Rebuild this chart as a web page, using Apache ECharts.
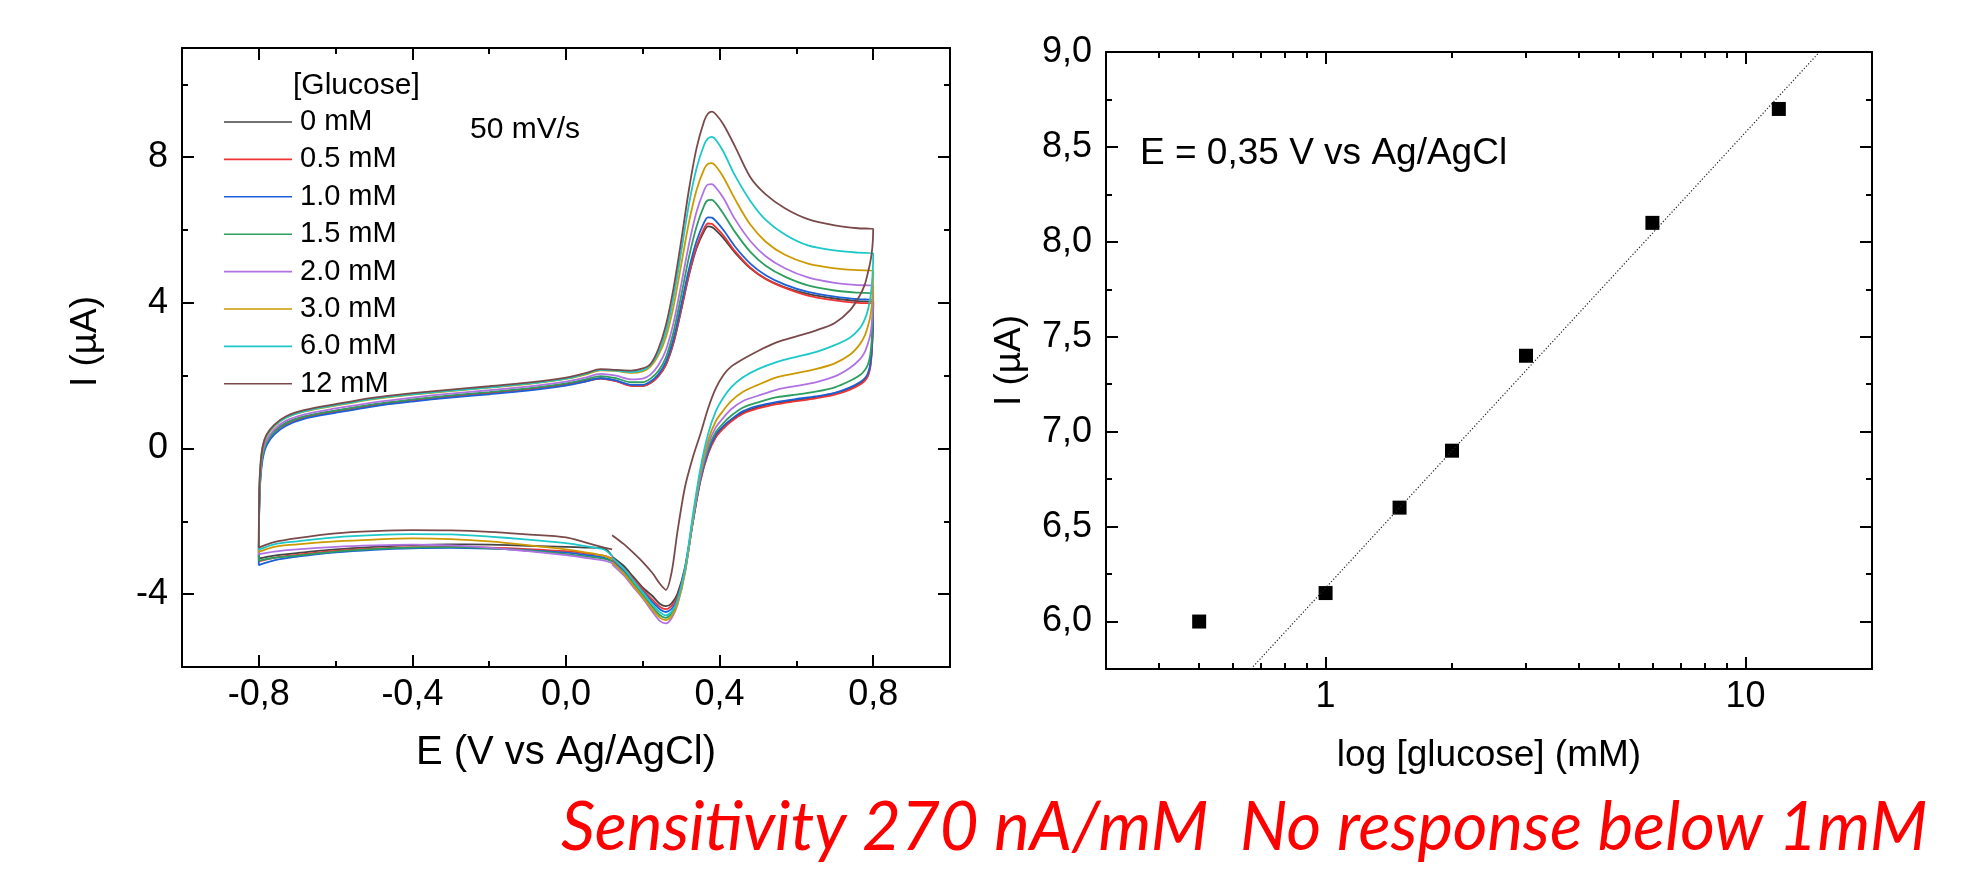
<!DOCTYPE html>
<html><head><meta charset="utf-8">
<script src="https://cdn.jsdelivr.net/npm/echarts@6/dist/echarts.min.js"></script>
<style>html,body{margin:0;padding:0;background:#fff}#c{width:1966px;height:873px}</style>
</head><body><div id="c"></div>
<script>
// ---------------- data ----------------
const CONC_LABELS = ['0 mM','0.5 mM','1.0 mM','1.5 mM','2.0 mM','3.0 mM','6.0 mM','12 mM'];

// potential path of the cyclic scan (V vs Ag/AgCl)
const E_LOOP = [
  0.12, 0.10, 0.05, 0.0, -0.1, -0.2, -0.3, -0.4, -0.5, -0.6, -0.7, -0.76, -0.8,
  -0.799, -0.796, -0.79, -0.78, -0.76, -0.73, -0.68, -0.6, -0.5, -0.4, -0.3, -0.2, -0.1, 0.0, 0.05, 0.09, 0.13, 0.17, 0.2, 0.22, 0.24, 0.26, 0.28, 0.3, 0.32, 0.34, 0.36, 0.37, 0.38, 0.39, 0.41, 0.44, 0.48, 0.52, 0.57, 0.63, 0.7, 0.76, 0.8,
  0.799, 0.796, 0.792, 0.786, 0.778, 0.765, 0.74, 0.7, 0.65, 0.6, 0.55, 0.5, 0.46, 0.43, 0.41, 0.39, 0.37, 0.35, 0.33, 0.31, 0.29, 0.275, 0.26, 0.245, 0.225, 0.2, 0.175, 0.15, 0.12
];

// current (µA) for each glucose concentration along E_LOOP
const I_0MM = [
  -2.95, -2.75, -2.72, -2.70, -2.67, -2.64, -2.63, -2.65, -2.70, -2.77, -2.87, -2.94, -3.02,
  -1.6, -0.7, -0.15, 0.2, 0.48, 0.70, 0.88, 1.04, 1.20, 1.33, 1.44, 1.53, 1.63, 1.76, 1.86, 1.93, 1.86, 1.73, 1.72, 1.80, 1.98, 2.30, 2.90, 3.80, 4.75, 5.50, 5.98, 6.10, 6.08, 6.00, 5.78, 5.38, 4.95, 4.66, 4.43, 4.25, 4.12, 4.05, 4.03,
  3.3, 2.65, 2.25, 2.02, 1.90, 1.79, 1.66, 1.52, 1.41, 1.33, 1.26, 1.14, 0.98, 0.78, 0.6, 0.33, -0.12, -0.85, -2.0, -3.25, -4.0, -4.25, -4.33, -4.27, -4.05, -3.82, -3.52, -3.22, -2.97
];
const I_05MM = [
  -3.02, -2.95, -2.88, -2.82, -2.76, -2.72, -2.70, -2.71, -2.75, -2.81, -2.92, -3.0, -3.1,
  -1.7, -0.8, -0.2, 0.15, 0.44, 0.66, 0.85, 1.01, 1.18, 1.31, 1.42, 1.51, 1.61, 1.74, 1.84, 1.92, 1.85, 1.72, 1.72, 1.80, 1.98, 2.30, 2.92, 3.82, 4.78, 5.55, 6.05, 6.18, 6.17, 6.08, 5.85, 5.42, 4.97, 4.66, 4.41, 4.20, 4.07, 4.00, 3.99,
  3.3, 2.6, 2.2, 1.98, 1.86, 1.75, 1.62, 1.48, 1.38, 1.30, 1.22, 1.10, 0.95, 0.74, 0.55, 0.30, -0.15, -0.90, -2.05, -3.30, -4.08, -4.32, -4.41, -4.35, -4.15, -3.87, -3.58, -3.30, -3.05
];
const I_1MM = [
  -3.08, -3.0, -2.92, -2.86, -2.79, -2.75, -2.73, -2.74, -2.78, -2.85, -2.97, -3.07, -3.2,
  -1.8, -0.9, -0.3, 0.08, 0.38, 0.62, 0.82, 0.98, 1.16, 1.29, 1.40, 1.49, 1.59, 1.73, 1.84, 1.93, 1.87, 1.75, 1.75, 1.84, 2.03, 2.38, 3.02, 3.95, 4.92, 5.70, 6.22, 6.35, 6.34, 6.25, 6.00, 5.55, 5.08, 4.76, 4.50, 4.30, 4.17, 4.10, 4.08,
  3.4, 2.7, 2.3, 2.06, 1.93, 1.82, 1.68, 1.53, 1.43, 1.36, 1.28, 1.17, 1.02, 0.80, 0.62, 0.38, -0.08, -0.85, -2.05, -3.35, -4.15, -4.40, -4.49, -4.42, -4.22, -3.93, -3.63, -3.35, -3.10
];
const I_15MM = [
  -3.1, -3.03, -2.96, -2.9, -2.8, -2.74, -2.71, -2.72, -2.76, -2.83, -2.94, -3.0, -3.08,
  -1.7, -0.8, -0.2, 0.15, 0.45, 0.69, 0.88, 1.04, 1.22, 1.35, 1.46, 1.55, 1.65, 1.79, 1.90, 1.99, 1.93, 1.82, 1.82, 1.92, 2.12, 2.50, 3.20, 4.20, 5.25, 6.10, 6.68, 6.82, 6.83, 6.74, 6.45, 5.95, 5.40, 5.02, 4.72, 4.48, 4.34, 4.28, 4.26,
  3.6, 2.95, 2.55, 2.3, 2.15, 2.01, 1.86, 1.68, 1.56, 1.48, 1.41, 1.27, 1.12, 0.90, 0.70, 0.45, 0.0, -0.80, -2.0, -3.35, -4.2, -4.52, -4.65, -4.58, -4.35, -4.02, -3.70, -3.40, -3.14
];
const I_2MM = [
  -3.15, -3.08, -3.0, -2.93, -2.82, -2.72, -2.66, -2.64, -2.66, -2.70, -2.77, -2.83, -2.9,
  -1.5, -0.7, -0.1, 0.22, 0.52, 0.76, 0.94, 1.10, 1.27, 1.40, 1.51, 1.60, 1.70, 1.84, 1.95, 2.05, 2.0, 1.9, 1.92, 2.03, 2.28, 2.70, 3.45, 4.50, 5.60, 6.50, 7.10, 7.25, 7.26, 7.17, 6.88, 6.30, 5.70, 5.28, 4.95, 4.70, 4.55, 4.49, 4.47,
  3.9, 3.4, 3.1, 2.88, 2.65, 2.45, 2.22, 1.98, 1.82, 1.72, 1.62, 1.45, 1.30, 1.08, 0.85, 0.58, 0.10, -0.75, -2.0, -3.4, -4.3, -4.66, -4.80, -4.74, -4.48, -4.12, -3.80, -3.48, -3.18
];
const I_3MM = [
  -3.05, -2.95, -2.85, -2.77, -2.65, -2.55, -2.49, -2.47, -2.50, -2.55, -2.63, -2.70, -2.84,
  -1.4, -0.6, 0.0, 0.32, 0.60, 0.84, 1.02, 1.18, 1.36, 1.48, 1.58, 1.67, 1.77, 1.91, 2.03, 2.15, 2.13, 2.08, 2.12, 2.25, 2.55, 3.05, 3.90, 5.05, 6.20, 7.10, 7.68, 7.82, 7.84, 7.76, 7.45, 6.85, 6.15, 5.68, 5.32, 5.08, 4.95, 4.90, 4.88,
  4.4, 3.9, 3.6, 3.35, 3.1, 2.86, 2.58, 2.34, 2.18, 2.07, 1.96, 1.75, 1.55, 1.30, 1.05, 0.75, 0.22, -0.65, -1.95, -3.4, -4.28, -4.60, -4.71, -4.65, -4.42, -4.08, -3.75, -3.42, -3.12
];
const I_6MM = [
  -2.95, -2.78, -2.68, -2.60, -2.50, -2.42, -2.36, -2.35, -2.38, -2.44, -2.55, -2.63, -2.78,
  -1.3, -0.5, 0.05, 0.35, 0.62, 0.85, 1.03, 1.19, 1.37, 1.49, 1.59, 1.68, 1.78, 1.92, 2.05, 2.16, 2.14, 2.10, 2.15, 2.30, 2.62, 3.20, 4.15, 5.40, 6.70, 7.70, 8.35, 8.52, 8.56, 8.48, 8.15, 7.50, 6.80, 6.28, 5.88, 5.58, 5.44, 5.38, 5.36,
  4.9, 4.45, 4.1, 3.8, 3.55, 3.3, 3.05, 2.84, 2.65, 2.52, 2.38, 2.18, 1.95, 1.68, 1.40, 1.02, 0.40, -0.55, -1.85, -3.30, -4.18, -4.48, -4.58, -4.50, -4.28, -3.95, -3.62, -3.30, -3.00
];
const I_12MM = [
  -2.77, -2.72, -2.58, -2.44, -2.36, -2.29, -2.25, -2.24, -2.27, -2.33, -2.46, -2.57, -2.72,
  -1.3, -0.5, 0.05, 0.38, 0.65, 0.88, 1.06, 1.22, 1.40, 1.52, 1.62, 1.71, 1.81, 1.95, 2.07, 2.18, 2.16, 2.14, 2.20, 2.32, 2.72, 3.38, 4.40, 5.70, 7.10, 8.25, 9.00, 9.20, 9.25, 9.18, 8.90, 8.30, 7.45, 6.98, 6.60, 6.30, 6.13, 6.05, 6.03,
  5.7, 5.35, 5.1, 4.82, 4.5, 4.2, 3.8, 3.45, 3.24, 3.08, 2.92, 2.68, 2.45, 2.25, 2.02, 1.65, 1.10, 0.40, -0.25, -1.05, -2.30, -3.40, -3.88, -3.72, -3.42, -3.12, -2.86, -2.62, -2.38
];
const CV_CURRENTS = [I_0MM, I_05MM, I_1MM, I_15MM, I_2MM, I_3MM, I_6MM, I_12MM];

// calibration (current at E = 0.35 V)
const GLUCOSE_MM = [0.5, 1, 1.5, 2, 3, 6, 12];
const I_AT_035V = [6.0, 6.15, 6.6, 6.9, 7.4, 8.1, 8.7];
const FIT_GLUCOSE = [0.664, 15.0];
const FIT_CURRENT = [5.75, 9.0];

// ticks
const CV_X_MAJOR = [-0.8, -0.4, 0, 0.4, 0.8];
const CV_X_MINOR = [-0.6, -0.2, 0.2, 0.6];
const CV_Y_MAJOR = [-4, 0, 4, 8];
const CV_Y_MINOR = [-6, -2, 2, 6, 10];
const CAL_X_MAJOR = [1, 10];
const CAL_X_MINOR = [0.4, 0.5, 0.6, 0.7, 0.8, 0.9, 2, 3, 4, 5, 6, 7, 8, 9];
const CAL_Y_MAJOR = [6.0, 6.5, 7.0, 7.5, 8.0, 8.5, 9.0];
const CAL_Y_MINOR = [6.25, 6.75, 7.25, 7.75, 8.25, 8.75];

// ---------------- style ----------------
const FONT = '"Liberation Sans", Arial, sans-serif';
const CV_COLORS = ['#454545', '#f03434', '#1c60d8', '#2c9e60', '#b072e2', '#cc9a00', '#1cc8c8', '#7a4a4a'];
const comma1 = v => v.toFixed(1).replace('.', ',');

function mkAxis(gridIndex, pos, type, min, max, ticks, tickLen, withLine, label, nameOpts) {
  const a = {
    type: type, gridIndex: gridIndex, position: pos, min: min, max: max,
    splitLine: {show: false},
    axisLine: {show: withLine, onZero: false, lineStyle: {color: '#000', width: 2}},
    axisTick: {show: true, inside: true, length: tickLen, customValues: ticks, lineStyle: {color: '#000', width: 2}},
    axisLabel: {show: false},
    axisPointer: {show: false},
    silent: true
  };
  if (type === 'log') a.logBase = 10;
  if (label) a.axisLabel = Object.assign({show: true, color: '#000', fontSize: 36, fontFamily: FONT}, label);
  if (nameOpts) Object.assign(a, nameOpts);
  return a;
}
const nameStyle = {color: '#000', fontSize: 37, fontFamily: FONT};

const xAxes = [
  mkAxis(0, 'bottom', 'value', -1, 1, CV_X_MAJOR, 12, true,
    {customValues: CV_X_MAJOR, formatter: v => comma1(v), margin: 10},
    {name: 'E (V vs Ag/AgCl)', nameLocation: 'middle', nameGap: 66, nameTextStyle: Object.assign({}, nameStyle, {fontSize: 40})}),
  mkAxis(0, 'bottom', 'value', -1, 1, CV_X_MINOR, 6, false),
  mkAxis(0, 'top', 'value', -1, 1, CV_X_MAJOR, 12, true),
  mkAxis(0, 'top', 'value', -1, 1, CV_X_MINOR, 6, false),
  mkAxis(1, 'bottom', 'log', 0.3, 20, CAL_X_MAJOR, 12, true,
    {customValues: CAL_X_MAJOR, formatter: v => String(Math.round(v)), margin: 10},
    {name: 'log [glucose] (mM)', nameLocation: 'middle', nameGap: 68, nameTextStyle: nameStyle}),
  mkAxis(1, 'bottom', 'log', 0.3, 20, CAL_X_MINOR, 6, false),
  mkAxis(1, 'top', 'log', 0.3, 20, CAL_X_MAJOR, 12, true),
  mkAxis(1, 'top', 'log', 0.3, 20, CAL_X_MINOR, 6, false)
];
const yAxes = [
  mkAxis(0, 'left', 'value', -6, 11, CV_Y_MAJOR, 12, true,
    {customValues: CV_Y_MAJOR, formatter: v => String(v), margin: 14},
    {name: 'I (µA)', nameLocation: 'middle', nameGap: 78, nameRotate: 90, nameTextStyle: Object.assign({padding: [0, 0, 0, 32]}, nameStyle)}),
  mkAxis(0, 'left', 'value', -6, 11, CV_Y_MINOR, 6, false),
  mkAxis(0, 'right', 'value', -6, 11, CV_Y_MAJOR, 12, true),
  mkAxis(0, 'right', 'value', -6, 11, CV_Y_MINOR, 6, false),
  mkAxis(1, 'left', 'value', 5.75, 9, CAL_Y_MAJOR, 12, true,
    {customValues: CAL_Y_MAJOR, formatter: v => comma1(v), margin: 14},
    {name: 'I (µA)', nameLocation: 'middle', nameGap: 78, nameRotate: 90, nameTextStyle: nameStyle}),
  mkAxis(1, 'left', 'value', 5.75, 9, CAL_Y_MINOR, 6, false),
  mkAxis(1, 'right', 'value', 5.75, 9, CAL_Y_MAJOR, 12, true),
  mkAxis(1, 'right', 'value', 5.75, 9, CAL_Y_MINOR, 6, false)
];

const series = CONC_LABELS.map((name, k) => ({
  name: name, type: 'line', xAxisIndex: 0, yAxisIndex: 0,
  data: E_LOOP.map((e, i) => [e, CV_CURRENTS[k][i]]),
  symbol: 'none', smooth: 0.3, color: CV_COLORS[k],
  lineStyle: {width: 1.8, color: CV_COLORS[k]},
  silent: true
}));
series.push({
  name: 'fit', type: 'line', xAxisIndex: 4, yAxisIndex: 4,
  data: FIT_GLUCOSE.map((g, i) => [g, FIT_CURRENT[i]]),
  symbol: 'none', lineStyle: {type: [1.2, 2], width: 1.2, color: '#222'}, silent: true
});
series.push({
  name: 'I at 0.35 V', type: 'scatter', xAxisIndex: 4, yAxisIndex: 4,
  data: GLUCOSE_MM.map((g, i) => [g, I_AT_035V[i]]),
  symbol: 'rect', symbolSize: 14, itemStyle: {color: '#000', opacity: 1}, silent: true
});

const txt = (size) => ({fontFamily: FONT, fontSize: size, lineHeight: size, fontWeight: 'normal', color: '#000'});
const option = {
  animation: false,
  backgroundColor: '#fff',
  grid: [
    {left: 182, top: 48, width: 768, height: 619, outerBoundsMode: 'none'},
    {left: 1106, top: 52, width: 766, height: 617, outerBoundsMode: 'none'}
  ],
  xAxis: xAxes,
  yAxis: yAxes,
  legend: {
    data: CONC_LABELS, orient: 'vertical', left: 224, top: 107, padding: 0,
    icon: 'rect', itemWidth: 68, itemHeight: 1.6, itemGap: 7.4, selectedMode: false,
    textStyle: {fontFamily: FONT, fontSize: 29, lineHeight: 30, color: '#000', padding: [0, 0, 0, 3]}
  },
  title: [
    {text: '[Glucose]', left: 293, top: 71, padding: 0, textStyle: txt(30)},
    {text: '50 mV/s', left: 470, top: 115, padding: 0, textStyle: txt(30)},
    {text: 'E = 0,35 V vs Ag/AgCl', left: 1140, top: 135, padding: 0, textStyle: txt(37)},
    {text: 'Sensitivity 270 nA/mM  No response below 1mM', left: 561, top: 795, padding: 0,
     textStyle: {fontFamily: 'Lato, "Open Sans", sans-serif', fontStyle: 'italic', fontWeight: 'normal', fontSize: 67, lineHeight: 67, color: '#ff0000'}}
  ],
  series: series
};
const chart = echarts.init(document.getElementById('c'), null, {width: 1966, height: 873});
chart.setOption(option);
</script>
</body></html>
